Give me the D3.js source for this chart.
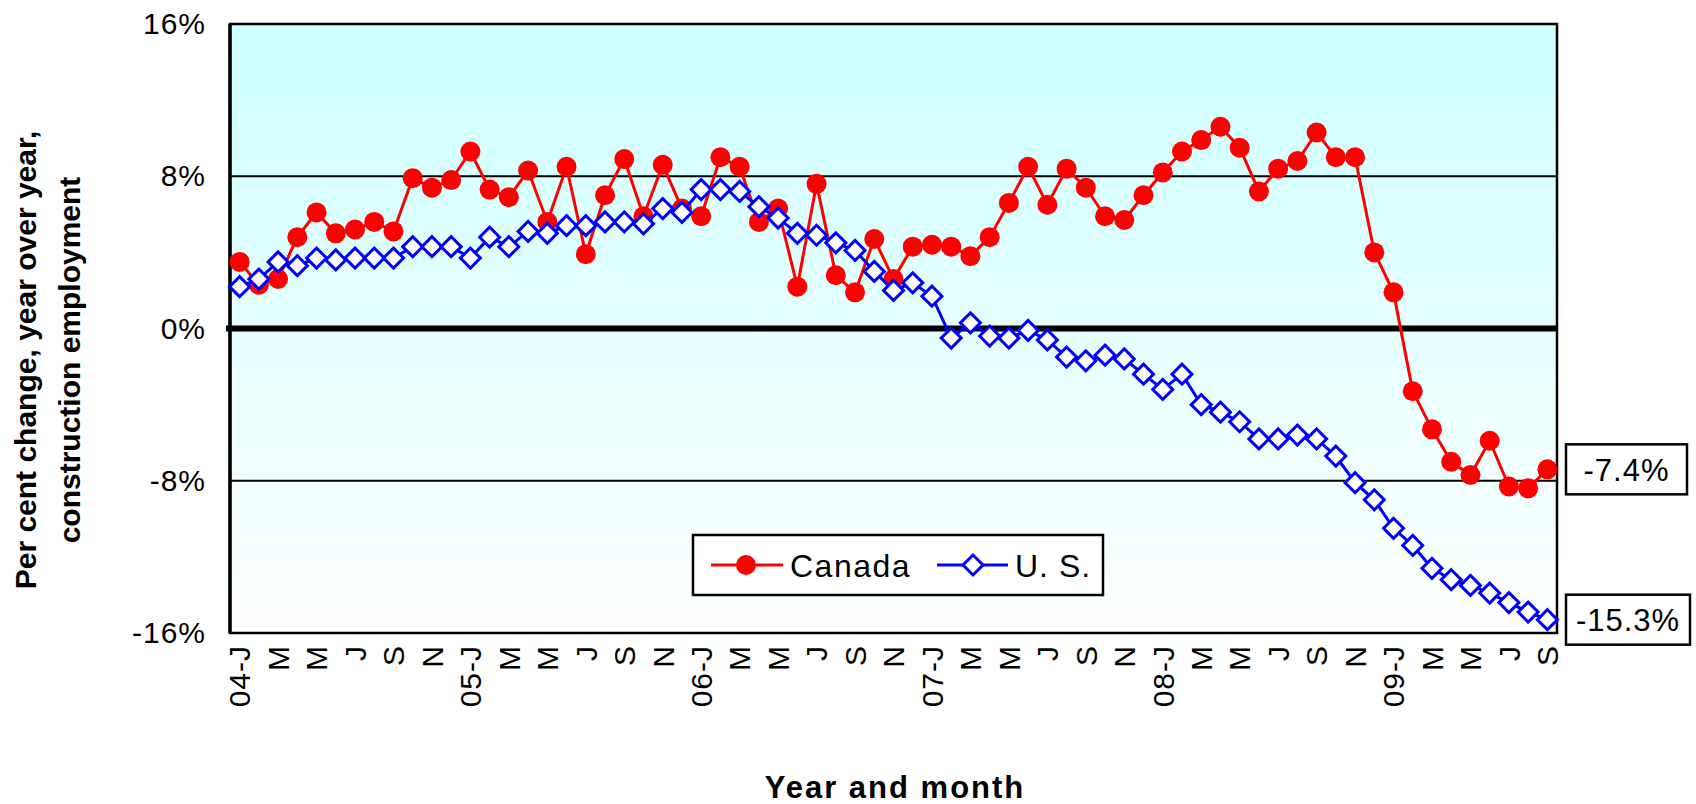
<!DOCTYPE html>
<html>
<head>
<meta charset="utf-8">
<script src="https://cdn.jsdelivr.net/npm/d3@7"></script>
<style>
  html, body { margin: 0; padding: 0; background: #ffffff; }
  svg { display: block; }
  text { font-family: "Liberation Sans", Arial, sans-serif; fill: #000; }
</style>
</head>
<body>
<svg id="chart" width="1696" height="804"></svg>
<script>
// ---- Data (Jan 2004 .. Sep 2009, monthly, % change year over year) ----
const tickLabels = ["04-J","M","M","J","S","N",
                    "05-J","M","M","J","S","N",
                    "06-J","M","M","J","S","N",
                    "07-J","M","M","J","S","N",
                    "08-J","M","M","J","S","N",
                    "09-J","M","M","J","S"];
const canada = [3.5, 2.3, 2.6, 4.8, 6.1, 5.0, 5.2, 5.6, 5.1, 7.9, 7.4, 7.8,
                9.3, 7.3, 6.9, 8.3, 5.6, 8.5, 3.9, 7.0, 8.9, 5.9, 8.6, 6.3,
                5.9, 9.0, 8.5, 5.6, 6.3, 2.2, 7.6, 2.8, 1.9, 4.7, 2.6, 4.3,
                4.4, 4.3, 3.8, 4.8, 6.6, 8.5, 6.5, 8.4, 7.4, 5.9, 5.7, 7.0,
                8.2, 9.3, 9.9, 10.6, 9.5, 7.2, 8.4, 8.8, 10.3, 9.0, 9.0, 4.0,
                1.9, -3.3, -5.3, -7.0, -7.7, -5.9, -8.3, -8.4, -7.4];
const us     = [2.2, 2.6, 3.5, 3.3, 3.7, 3.6, 3.7, 3.7, 3.7, 4.3, 4.3, 4.3,
                3.7, 4.8, 4.3, 5.1, 5.0, 5.4, 5.4, 5.6, 5.6, 5.5, 6.3, 6.1,
                7.3, 7.3, 7.2, 6.4, 5.8, 5.0, 4.9, 4.5, 4.1, 3.0, 2.0, 2.4,
                1.7, -0.5, 0.3, -0.4, -0.5, -0.1, -0.6, -1.5, -1.7, -1.4, -1.6, -2.4,
                -3.2, -2.4, -4.0, -4.4, -4.9, -5.8, -5.8, -5.6, -5.8, -6.7, -8.1, -9.0,
                -10.5, -11.4, -12.6, -13.2, -13.5, -13.9, -14.4, -14.9, -15.3];
const yTicks = [-16, -8, 0, 8, 16];
const seriesNames = ["Canada", "U. S."];
const endLabels = ["-7.4%", "-15.3%"];

// ---- Layout ----
const svg = d3.select("#chart");
const L = 230, R = 1557, T = 24, B = 633;
const idx = d3.range(canada.length);
const x = d3.scaleBand().domain(idx).range([L, R]).padding(0);
const cx = i => x(i) + x.bandwidth() / 2;
const y = d3.scaleLinear().domain([-16, 16]).range([B, T]);

// background gradient
const defs = svg.append("defs");
const grad = defs.append("linearGradient").attr("id", "bg")
  .attr("x1", 0).attr("y1", 0).attr("x2", 0).attr("y2", 1);
grad.append("stop").attr("offset", "0%").attr("stop-color", "#ccffff");
grad.append("stop").attr("offset", "100%").attr("stop-color", "#ffffff");

svg.append("rect").attr("x", L).attr("y", T).attr("width", R - L).attr("height", B - T)
  .attr("fill", "url(#bg)");

// gridlines
svg.append("g").selectAll("line").data(yTicks.filter(d => d !== 0 && Math.abs(d) !== 16)).join("line")
  .attr("x1", L).attr("x2", R).attr("y1", d => y(d)).attr("y2", d => y(d))
  .attr("stroke", "#000").attr("stroke-width", 2);
svg.append("line").attr("x1", L - 4).attr("x2", R).attr("y1", y(0)).attr("y2", y(0))
  .attr("stroke", "#000").attr("stroke-width", 6);

// frame
svg.append("rect").attr("x", L).attr("y", T).attr("width", R - L).attr("height", B - T)
  .attr("fill", "none").attr("stroke", "#000").attr("stroke-width", 2.5);
svg.append("line").attr("x1", L).attr("x2", L).attr("y1", T).attr("y2", B)
  .attr("stroke", "#000").attr("stroke-width", 3.5);

// y axis
const yAxis = svg.append("g").attr("transform", `translate(${L},0)`)
  .call(d3.axisLeft(y).tickValues(yTicks).tickFormat(d => d + "%").tickSize(0).tickPadding(24));
yAxis.select(".domain").remove();
yAxis.selectAll("text").style("font-size", "30px").style("letter-spacing", "1px")
  .style("font-family", "'Liberation Sans', Arial, sans-serif");

// x axis
const xAxis = svg.append("g").attr("transform", `translate(0,${B})`)
  .call(d3.axisBottom(x).tickValues(idx.filter(i => i % 2 === 0))
        .tickFormat(i => tickLabels[i / 2]).tickSize(0));
xAxis.select(".domain").remove();
xAxis.selectAll("text")
  .attr("transform", "rotate(-90)")
  .attr("x", -12).attr("y", 0).attr("dy", "0.36em")
  .style("text-anchor", "end")
  .style("font-size", "30px").style("letter-spacing", "1px")
  .style("font-family", "'Liberation Sans', Arial, sans-serif");

// lines
const line = d3.line().x((d, i) => cx(i)).y(d => y(d));
svg.append("path").datum(canada).attr("d", line)
  .attr("fill", "none").attr("stroke", "#ff0000").attr("stroke-width", 3);
svg.append("g").selectAll("circle").data(canada).join("circle")
  .attr("cx", (d, i) => cx(i)).attr("cy", d => y(d)).attr("r", 10)
  .attr("fill", "#ff0000");

svg.append("path").datum(us).attr("d", line)
  .attr("fill", "none").attr("stroke", "#0000ff").attr("stroke-width", 3);
const diamond = d3.symbol().type(d3.symbolSquare).size(200);
svg.append("g").selectAll("path").data(us).join("path")
  .attr("d", diamond)
  .attr("transform", (d, i) => `translate(${cx(i)},${y(d)}) rotate(45)`)
  .attr("fill", "#ffffff").attr("stroke", "#0000ff").attr("stroke-width", 3);

// legend
const lg = svg.append("g");
lg.append("rect").attr("x", 693).attr("y", 535).attr("width", 410).attr("height", 60)
  .attr("fill", "#ffffff").attr("stroke", "#000").attr("stroke-width", 2.5);
const ly = 565;
lg.append("line").attr("x1", 711).attr("x2", 783).attr("y1", ly).attr("y2", ly)
  .attr("stroke", "#ff0000").attr("stroke-width", 3);
lg.append("circle").attr("cx", 746).attr("cy", ly).attr("r", 10).attr("fill", "#ff0000");
lg.append("text").attr("x", 790).attr("y", ly).attr("dy", "0.36em")
  .style("font-size", "32px").style("letter-spacing", "1.5px").text(seriesNames[0]);
lg.append("line").attr("x1", 937).attr("x2", 1008).attr("y1", ly).attr("y2", ly)
  .attr("stroke", "#0000ff").attr("stroke-width", 3);
lg.append("path").attr("d", diamond).attr("transform", `translate(973,${ly}) rotate(45)`)
  .attr("fill", "#ffffff").attr("stroke", "#0000ff").attr("stroke-width", 3);
lg.append("text").attr("x", 1015).attr("y", ly).attr("dy", "0.36em")
  .style("font-size", "32px").style("letter-spacing", "1px").text(seriesNames[1]);

// end labels
const ends = [
  { v: canada[canada.length - 1], t: endLabels[0], w: 121 },
  { v: us[us.length - 1], t: endLabels[1], w: 124 }
];
const eg = svg.append("g").selectAll("g").data(ends).join("g")
  .attr("transform", d => `translate(1566,${y(d.v)})`);
eg.append("rect").attr("x", 0).attr("y", -25).attr("width", d => d.w).attr("height", 50)
  .attr("fill", "#ffffff").attr("stroke", "#000").attr("stroke-width", 2.5);
eg.append("text").attr("x", d => d.w / 2).attr("y", 0).attr("dy", "0.36em")
  .attr("text-anchor", "middle").style("font-size", "31px").style("letter-spacing", "1px")
  .text(d => d.t);

// axis titles
svg.append("text").attr("transform", "translate(36,360) rotate(-90)")
  .attr("text-anchor", "middle").style("font-size", "30px").style("font-weight", "bold")
  .text("Per cent change, year over year,");
svg.append("text").attr("transform", "translate(80,360) rotate(-90)")
  .attr("text-anchor", "middle").style("font-size", "30px").style("font-weight", "bold")
  .text("construction employment");
svg.append("text").attr("x", 895).attr("y", 798)
  .attr("text-anchor", "middle").style("font-size", "31px").style("font-weight", "bold")
  .style("letter-spacing", "2px")
  .text("Year and month");
</script>
</body>
</html>
